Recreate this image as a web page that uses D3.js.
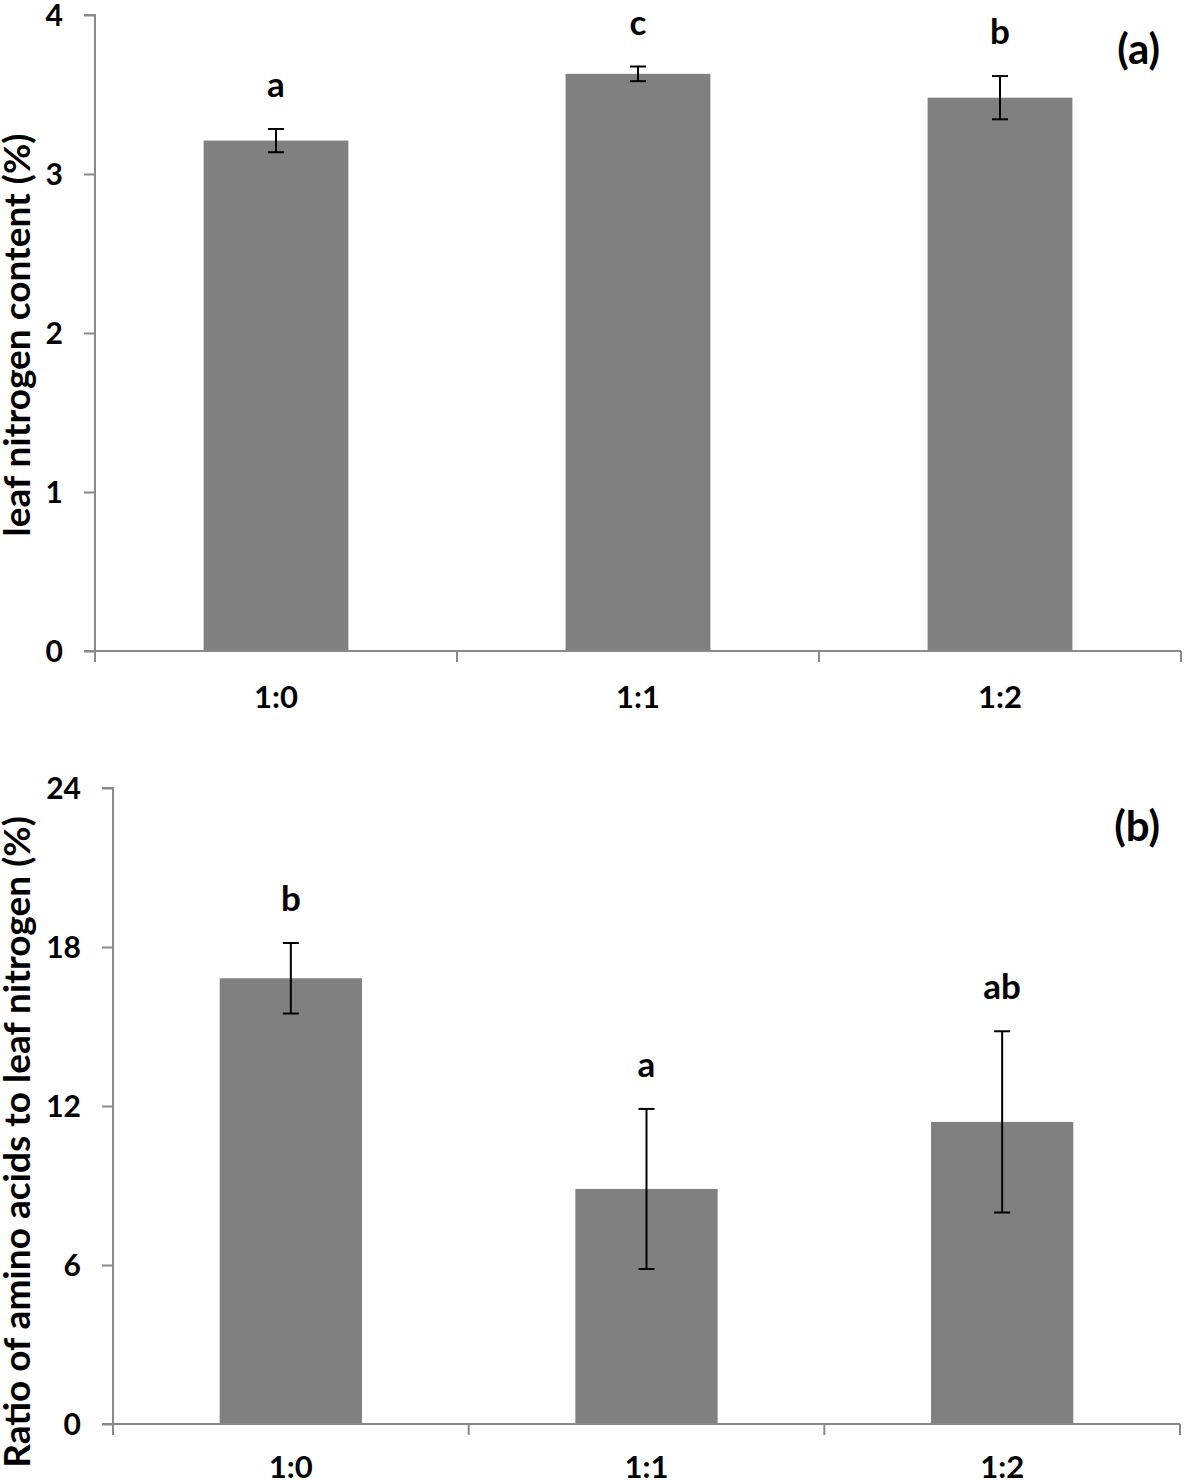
<!DOCTYPE html>
<html>
<head>
<meta charset="utf-8">
<script src="https://d3js.org/d3.v7.min.js"></script>
<style>
  body { margin: 0; background: #fff; }
  svg text { font-family: Lato, "Open Sans", sans-serif; font-weight: bold; fill: #000; }
</style>
</head>
<body>
<div id="chart"></div>
<script>
// ratio treatments
var categories = ["1:0", "1:1", "1:2"];

// (a) leaf nitrogen content (%)
var nitrogenMean = [3.21, 3.63, 3.48];
var nitrogenErr = [0.073, 0.046, 0.136];
var nitrogenLetters = ["a", "c", "b"];
var nitrogenTicks = [0, 1, 2, 3, 4];

// (b) ratio of amino acids to leaf nitrogen (%)
var ratioMean = [16.82, 8.87, 11.40];
var ratioErr = [1.33, 3.02, 3.42];
var ratioLetters = ["b", "a", "ab"];
var ratioTicks = [0, 6, 12, 18, 24];

var svg = d3.select("#chart").append("svg")
    .attr("width", 1184)
    .attr("height", 1481);

var axisColor = "#898989";
var barColor = "#808080";

function drawPanel(opt) {
    var g = svg.append("g");

    var x = d3.scaleBand()
        .domain(categories)
        .range([opt.left, opt.right])
        .paddingInner(0.6)
        .paddingOuter(0.3);

    var y = d3.scaleLinear()
        .domain([0, opt.ticks[opt.ticks.length - 1]])
        .range([opt.bottom, opt.top]);

    // bars
    g.selectAll("rect.bar")
        .data(opt.mean)
        .enter().append("rect")
        .attr("class", "bar")
        .attr("x", function(d, i) { return x(categories[i]); })
        .attr("width", x.bandwidth())
        .attr("y", function(d) { return y(d); })
        .attr("height", function(d) { return y(0) - y(d); })
        .attr("fill", barColor);

    // y axis
    var yAxis = d3.axisLeft(y).tickValues(opt.ticks).tickFormat(d3.format("d"))
        .tickSize(11).tickPadding(21);
    var ya = g.append("g")
        .attr("transform", "translate(" + opt.left + ",0)")
        .call(yAxis);
    ya.select(".domain").attr("stroke", axisColor).attr("stroke-width", 2)
        .attr("d", "M" + (-11) + "," + y.range()[1] + "H0V" + (opt.bottom + 11));
    ya.selectAll(".tick line").attr("stroke", axisColor).attr("stroke-width", 2);
    ya.selectAll(".tick text")
        .style("font-size", "30px")
        .attr("dy", "0.36em");

    // x axis (ticks at category boundaries)
    var step = x.step();
    var bounds = d3.range(categories.length + 1).map(function(i) {
        return opt.left + i * step;
    });
    g.append("line")
        .attr("x1", opt.left - 11).attr("x2", opt.right)
        .attr("y1", opt.bottom).attr("y2", opt.bottom)
        .attr("stroke", axisColor).attr("stroke-width", 2);
    g.selectAll("line.xtick")
        .data(bounds)
        .enter().append("line")
        .attr("class", "xtick")
        .attr("x1", function(d) { return d; }).attr("x2", function(d) { return d; })
        .attr("y1", opt.bottom).attr("y2", opt.bottom + 11)
        .attr("stroke", axisColor).attr("stroke-width", 2);
    g.selectAll("text.xlab")
        .data(categories)
        .enter().append("text")
        .attr("class", "xlab")
        .attr("x", function(d) { return x(d) + x.bandwidth() / 2; })
        .attr("y", opt.bottom + opt.xlabOffset)
        .attr("text-anchor", "middle")
        .style("font-size", "31px")
        .text(function(d) { return d; });

    // error bars
    var cap = 8;
    opt.mean.forEach(function(m, i) {
        var cx = x(categories[i]) + x.bandwidth() / 2;
        var hi = y(m + opt.err[i]), lo = y(m - opt.err[i]);
        var eg = g.append("g").attr("stroke", "#000").attr("stroke-width", 2);
        eg.append("line").attr("x1", cx).attr("x2", cx).attr("y1", hi).attr("y2", lo);
        eg.append("line").attr("x1", cx - cap).attr("x2", cx + cap).attr("y1", hi).attr("y2", hi);
        eg.append("line").attr("x1", cx - cap).attr("x2", cx + cap).attr("y1", lo).attr("y2", lo);

        g.append("text")
            .attr("x", cx)
            .attr("y", hi - 32)
            .attr("text-anchor", "middle")
            .style("font-size", "35px")
            .text(opt.letters[i]);
    });

    // panel label
    g.append("text")
        .attr("x", 1160)
        .attr("y", opt.labelY)
        .attr("text-anchor", "end")
        .style("font-size", "42px")
        .text(opt.label);

    // y title
    g.append("text")
        .attr("transform", "translate(" + 30 + "," + opt.titleY + ") rotate(-90)")
        .attr("text-anchor", "middle")
        .style("font-size", "37px")
        .text(opt.title);
}

drawPanel({
    left: 95, right: 1181, top: 15, bottom: 651,
    ticks: nitrogenTicks, mean: nitrogenMean, err: nitrogenErr,
    letters: nitrogenLetters, label: "(a)", labelY: 64,
    title: "leaf nitrogen content (%)", titleY: 335, xlabOffset: 57
});

drawPanel({
    left: 113, right: 1180, top: 788, bottom: 1424,
    ticks: ratioTicks, mean: ratioMean, err: ratioErr,
    letters: ratioLetters, label: "(b)", labelY: 841,
    title: "Ratio of amino acids to leaf nitrogen (%)", titleY: 1142, xlabOffset: 54
});
</script>
</body>
</html>
